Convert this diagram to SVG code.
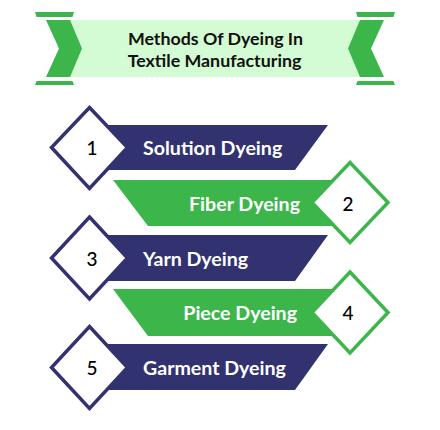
<svg xmlns="http://www.w3.org/2000/svg" width="440" height="430" viewBox="0 0 440 430">
<style>
.navy{fill:#31326f}
.green{fill:#3cb64b}
.light{fill:#d4fcd4}
.dn{fill:#ffffff;stroke:#31326f;stroke-width:3.5}
.dg{fill:#ffffff;stroke:#3cb64b;stroke-width:3.5}
.title{font-family:Lato,"Liberation Sans",sans-serif;font-weight:700;font-size:17.8px;fill:#111111;text-anchor:middle}
.lbl{font-family:Lato,"Liberation Sans",sans-serif;font-weight:700;font-size:19.6px;fill:#ffffff}
.num{font-family:Lato,"Liberation Sans",sans-serif;font-weight:500;font-size:19px;fill:#000000;text-anchor:middle}
</style>
<rect width="440" height="430" fill="#ffffff"/>
<g id="header">
  <rect class="light" x="62" y="20" width="306" height="57"/>
  <polygon class="green" points="35,12 74,12 72.5,17 36.5,17"/>
  <polygon class="green" points="36.5,81 72.5,81 74,85 35,85"/>
  <polygon class="green" points="46,20 70,20 82,48.5 70,77 46,77 59,48.5"/>
  <polygon class="green" points="356,12 395,12 393.5,17 357.5,17"/>
  <polygon class="green" points="357.5,81 393.5,81 395,85 356,85"/>
  <polygon class="green" points="384,20 360,20 348,48.5 360,77 384,77 371,48.5"/>
  <text class="title" x="215.5" y="45">Methods Of Dyeing In</text>
  <text class="title" x="214.5" y="67">Textile Manufacturing</text>
</g>
<g id="connectors"/>
<g id="step1">
  <polygon class="navy" points="90,125 328,125 295,170 90,170"/>
  <polygon class="dn" points="89.5,107.5 127.5,147.5 89.5,188.5 51.5,147.5"/>
  <text class="num" x="92" y="155">1</text>
  <text class="lbl" x="143" y="155">Solution Dyeing</text>
</g>
<g id="step2">
  <polygon class="green" points="113,180 350,180 350,226 148,226"/>
  <polygon class="dg" points="350,162.5 388,202.5 350,242.5 312,202.5"/>
  <text class="num" x="348" y="210.5">2</text>
  <text class="lbl" x="300" y="211" text-anchor="end">Fiber Dyeing</text>
</g>
<g id="step3">
  <polygon class="navy" points="90,235 328,235 295,281 90,281"/>
  <polygon class="dn" points="89.5,217 127.5,258 89.5,299 51.5,258"/>
  <text class="num" x="92" y="265.5">3</text>
  <text class="lbl" x="143" y="266">Yarn Dyeing</text>
</g>
<g id="step4">
  <polygon class="green" points="113,289 350,289 350,336 148,336"/>
  <polygon class="dg" points="350,272 388,312.5 350,353 312,312.5"/>
  <text class="num" x="348" y="320">4</text>
  <text class="lbl" x="297" y="320" text-anchor="end">Piece Dyeing</text>
</g>
<g id="step5">
  <polygon class="navy" points="90,344 328,344 295,390 90,390"/>
  <polygon class="dn" points="89.5,326.5 127.5,367.5 89.5,408.5 51.5,367.5"/>
  <text class="num" x="92" y="375">5</text>
  <text class="lbl" x="143" y="375">Garment Dyeing</text>
</g>
</svg>
